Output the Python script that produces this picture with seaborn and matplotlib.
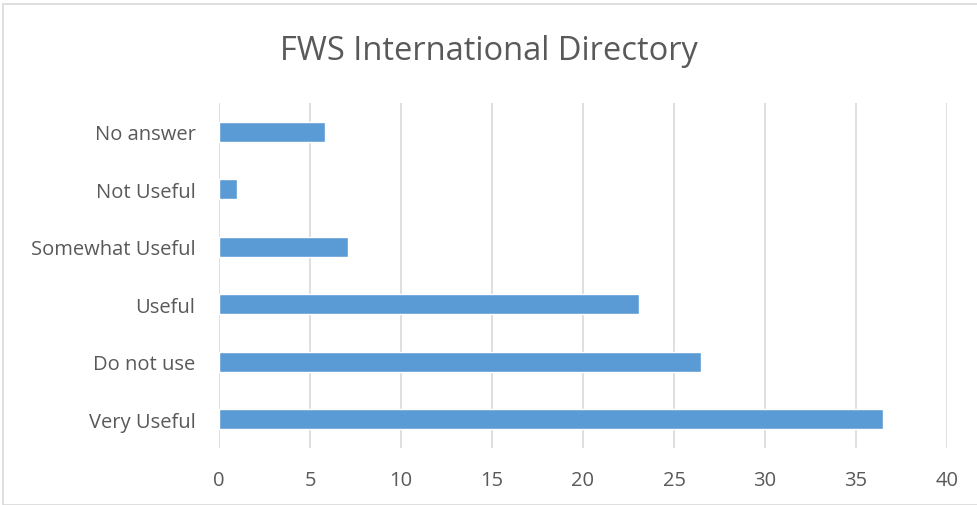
import matplotlib
matplotlib.use("Agg")
import matplotlib.pyplot as plt
import seaborn as sns
import pandas as pd
from matplotlib.patches import Rectangle

categories = ["No answer", "Not Useful", "Somewhat Useful", "Useful", "Do not use", "Very Useful"]
values = [5.8, 1.0, 7.1, 23.1, 26.5, 36.5]
xticks = [0, 5, 10, 15, 20, 25, 30, 35, 40]

df = pd.DataFrame({"category": categories, "value": values})

sns.set_theme(style="white")
plt.rcParams['font.family'] = ['Open Sans', 'DejaVu Sans']

fig = plt.figure(figsize=(9.77, 5.06), dpi=100)
ax = fig.add_axes([219/977, 1-449/506, (947-219)/977, (449-104)/506])

sns.barplot(data=df, y="category", x="value", orient="h", color="#5B9BD5",
            saturation=1, width=0.35, ax=ax, order=categories)

ax.set_xlim(0, 40)
ax.set_xticks(xticks)
ax.set_xticklabels([str(t) for t in xticks])
ax.set_xlabel("")
ax.set_ylabel("")
ax.grid(axis="x", color="#D9D9D9", linewidth=1.2)
ax.set_axisbelow(True)
for s in ax.spines.values():
    s.set_visible(False)
ax.tick_params(axis="both", length=0, labelsize=14.5, colors="#595959")
ax.tick_params(axis="x", pad=16)
ax.tick_params(axis="y", pad=17)

fig.text(0.5, 1-51/506, "FWS International Directory", ha="center", va="center",
         fontsize=23.5, color="#595959")

fig.patches.append(Rectangle((3/977, 0), 1, 1-5/506, transform=fig.transFigure,
                             fill=False, edgecolor="#D9D9D9", linewidth=1.2))

fig.savefig("out.png", dpi=100)
